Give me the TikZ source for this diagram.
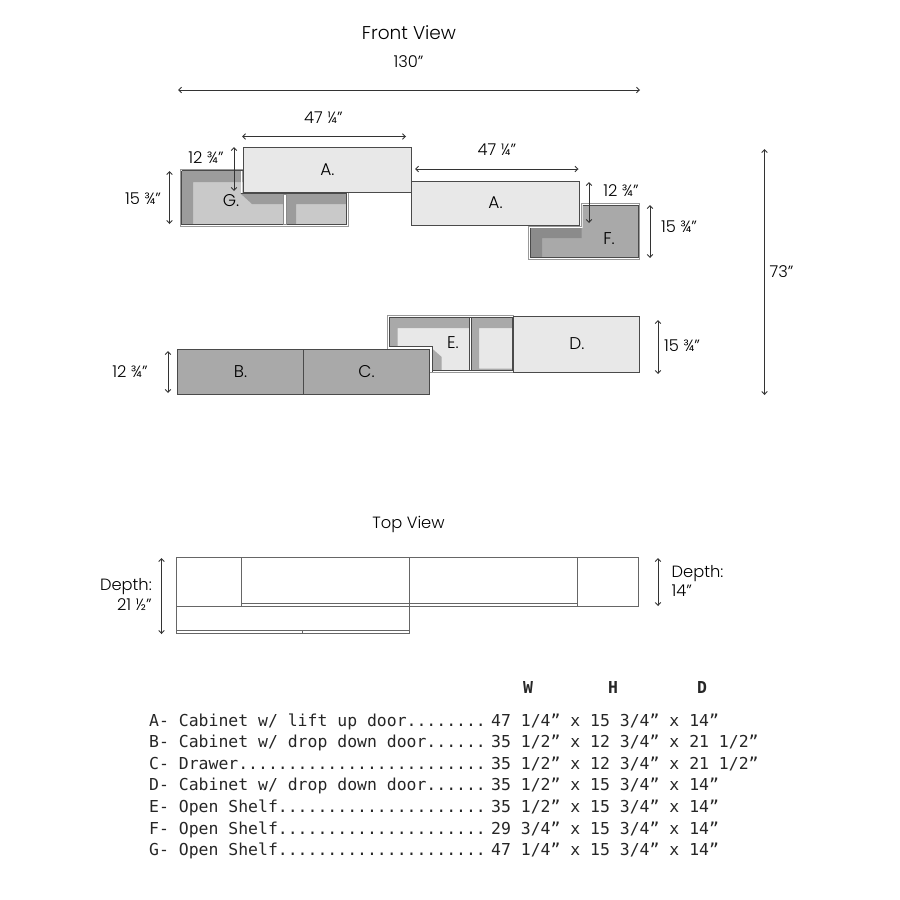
\documentclass[tikz,border=0pt]{standalone}
\usepackage{fontspec}
\setmainfont{Poppins}[UprightFont={* Light},BoldFont={* Medium}]
\newfontfamily\tablefont{DejaVu Sans Mono}
\usetikzlibrary{arrows.meta}
\definecolor{lightpanel}{HTML}{E8E8E8}
\definecolor{midpanel}{HTML}{C9C9C9}
\definecolor{greypanel}{HTML}{A9A9A9}
\definecolor{shadowA}{HTML}{9C9C9C}
\definecolor{shadowB}{HTML}{8B8B8B}
\definecolor{edge}{HTML}{4A4A4A}
\tikzset{
  x=1pt,y=-1pt,
  dim/.style={draw=black!80,line width=1pt,{Straight Barb[length=2.8pt,width=5.5pt]}-{Straight Barb[length=2.8pt,width=5.5pt]}},
  boxfront/.style={draw=edge,line width=0.9pt},
  frameout/.style={draw=black!40,fill=white,line width=0.9pt},
  plan/.style={draw=black!60,line width=0.9pt},
  lab/.style={inner sep=0pt,font=\fontsize{17}{20}\selectfont,text=black},
  dimlab/.style={inner sep=0pt,font=\fontsize{16.3}{19.5}\selectfont,text=black},
  row/.style={inner sep=0pt,anchor=base west,font=\tablefont\fontsize{16.45}{18}\selectfont,text=black!85},
  head/.style={inner sep=0pt,font=\tablefont\bfseries\fontsize{16.45}{18}\selectfont,text=black!85}
}
\begin{document}
\begin{tikzpicture}
\useasboundingbox (0,0) rectangle (900,900);
% ---- G shelf
\path[frameout] (180.5,169.5) rectangle (348,226.5);
\path[fill=midpanel] (181.5,170.5) rectangle (346.8,224);
\path[fill=shadowA] (181.5,170.5) -- (243,170.5) -- (243,182) -- (193,182) -- (193,224) -- (181.5,224) -- cycle;
\path[fill=shadowA] (240,193) -- (284,193) -- (284,204) -- (252,204) -- cycle;
\path[fill=shadowA] (286,193) -- (346.8,193) -- (346.8,204) -- (296,204) -- (296,224) -- (286,224) -- cycle;
\path[draw=edge,line width=0.8pt] (181.5,170.5) -- (181.5,224) -- (346.8,224) -- (346.8,194);
\path[draw=edge,line width=0.8pt] (181.5,170.5) -- (243,170.5);
\path[draw=white,line width=1.2pt] (241.8,171) -- (241.8,193.4);
\path[fill=white,draw=black!45,line width=0.6pt] (283.5,194) rectangle (286.5,224);
\path[draw=edge,line width=0.7pt] (241,193.4) -- (347,193.4);
% ---- A boxes
\path[boxfront,fill=lightpanel] (243.3,147.5) rectangle (411.7,192.5);
\path[boxfront,fill=lightpanel] (411.3,181) rectangle (579.5,225.7);
% ---- F shelf
\path[frameout] (528.7,259.5) -- (639.4,259.5) -- (639.4,203.5) -- (581,203.5) -- (581,226.5) -- (528.7,226.5) -- cycle;
\path[fill=greypanel] (530.2,228) -- (582.5,228) -- (582.5,205) -- (638.2,205) -- (638.2,257.7) -- (530.2,257.7) -- cycle;
\path[fill=shadowB] (530.2,228) -- (581.5,228) -- (581.5,238) -- (542,238) -- (542,257.7) -- (530.2,257.7) -- cycle;
\path[draw=edge,line width=0.8pt] (530.2,228) -- (530.2,257.7) -- (638.2,257.7) -- (638.2,205) -- (582.5,205);
% ---- E shelf
\path[frameout] (387.5,315.5) rectangle (513.3,372.3);
\path[fill=lightpanel] (389,317.5) rectangle (512,370);
\path[fill=greypanel] (389,317.5) -- (470,317.5) -- (470,328) -- (397.5,328) -- (397.5,348) -- (389,348) -- cycle;
\path[fill=greypanel] (431.5,348) -- (441.7,357) -- (441.7,370) -- (431.5,370) -- cycle;
\path[fill=greypanel] (472,317.5) -- (512,317.5) -- (512,328) -- (479,328) -- (479,368.5) -- (512,368.5) -- (512,370) -- (472,370) -- cycle;
\path[draw=edge,line width=0.8pt] (389,347) -- (389,317.5) -- (512,317.5) -- (512,370) -- (431,370);
\path[fill=white,draw=edge,line width=0.6pt] (469.3,317.5) rectangle (471.6,370);
% ---- B and C, white frame around C corner
\path[draw=white,line width=2.2pt] (388,347.6) -- (431.2,347.6) -- (431.2,372);
\path[draw=edge,line width=0.6pt] (389,346.6) -- (432.2,346.6) -- (432.2,372);
\path[boxfront,fill=greypanel] (177.5,349.7) rectangle (303.3,394.7);
\path[boxfront,fill=greypanel] (303.3,349.7) rectangle (429.7,394.7);
% ---- D
\path[boxfront,fill=lightpanel] (513.3,316.5) rectangle (639.3,372);
% ---- panel letters
\node[lab] (lA1) at (327.5,170) {A.};
\node[lab] (lA2) at (495.5,203) {A.};
\node[lab] (lB) at (240.5,371.5) {B.};
\node[lab] (lC) at (366.5,371.5) {C.};
\node[lab] (lD) at (577,344) {D.};
\node[lab] (lE) at (453,343) {E.};
\node[lab] (lF) at (609,239) {F.};
\node[lab] (lG) at (231,200.5) {G.};
% ---- dimension end points
\coordinate (w1a) at (178,90); \coordinate (w1b) at (640,90);
\coordinate (w2a) at (242,136.5); \coordinate (w2b) at (406,136.5);
\coordinate (w3a) at (415,169); \coordinate (w3b) at (578.5,169);
\coordinate (h1a) at (234,147); \coordinate (h1b) at (234,191);
\coordinate (h2a) at (169.5,171); \coordinate (h2b) at (169.5,224);
\coordinate (h3a) at (589,182); \coordinate (h3b) at (589,223);
\coordinate (h4a) at (650,205); \coordinate (h4b) at (650,258);
\coordinate (h5a) at (764.5,149); \coordinate (h5b) at (764.5,395);
\coordinate (h6a) at (168,351); \coordinate (h6b) at (168,393);
\coordinate (h7a) at (658,320); \coordinate (h7b) at (658,374);
\coordinate (d1a) at (161.5,558); \coordinate (d1b) at (161.5,634);
\coordinate (d2a) at (658,558); \coordinate (d2b) at (658,606);
\foreach \p in {w1,w2,w3,h1,h2,h3,h4,h5,h6,h7,d1,d2}{\draw[dim] (\p a) -- (\p b);}
% ---- dimension labels
\node[inner sep=0pt,font=\fontsize{18.5}{22}\selectfont,text=black] (tfront) at (409,32.5) {Front View};
\node[dimlab] (t130) at (408.5,62) {130”};
\node[dimlab] (t47a) at (323.5,118) {47 ¼”};
\node[dimlab] (t47b) at (497,150) {47 ¼”};
\node[dimlab] (t12a) at (206,157.5) {12 ¾”};
\node[dimlab] (t15a) at (143,198.5) {15 ¾”};
\node[dimlab] (t12b) at (621,191) {12 ¾”};
\node[dimlab] (t15b) at (679,227) {15 ¾”};
\node[dimlab] (t73) at (781.5,271.5) {73”};
\node[dimlab] (t12c) at (130,371.5) {12 ¾”};
\node[dimlab] (t15c) at (682,346) {15 ¾”};
\node[inner sep=0pt,font=\fontsize{16.3}{19.5}\selectfont,text=black] (ttop) at (408.5,524) {Top View};
\node[dimlab,anchor=east,align=right] (tdl) at (152,594) {Depth:\\[0.5pt]21 ½”};
\node[dimlab,anchor=west,align=left] (tdr) at (671.5,581) {Depth:\\[0pt]14”};
% ---- top view
\path[plan] (176,557.5) rectangle (638.7,606.7);
\path[plan] (176,606.7) rectangle (409.7,633.8);
\path[plan] (241.7,557.5) -- (241.7,606.7);
\path[plan] (409.7,557.5) -- (409.7,606.7);
\path[plan] (577.7,557.5) -- (577.7,606.7);
\path[plan] (241.7,603.3) -- (577.7,603.3);
\path[plan] (176,630.3) -- (409.7,630.3);
\path[plan] (302,630.3) -- (302,633.8);
% ---- table
\node[head] (hW) at (528,687.5) {W};
\node[head] (hH) at (613,687.5) {H};
\node[head] (hD) at (702,687.5) {D};
\foreach \n/\y/\l/\r in {
 ra/726/{A- Cabinet w/ lift up door........}/{47 1/4” x 15 3/4” x 14”},
 rb/747.3/{B- Cabinet w/ drop down door......}/{35 1/2” x 12 3/4” x 21 1/2”},
 rc/769/{C- Drawer.........................}/{35 1/2” x 12 3/4” x 21 1/2”},
 rd/790.3/{D- Cabinet w/ drop down door......}/{35 1/2” x 15 3/4” x 14”},
 re/812/{E- Open Shelf.....................}/{35 1/2” x 15 3/4” x 14”},
 rf/834/{F- Open Shelf.....................}/{29 3/4” x 15 3/4” x 14”},
 rg/855.3/{G- Open Shelf.....................}/{47 1/4” x 15 3/4” x 14”}}{
  \node[row] (\n l) at (149,\y) {\l};
  \node[row] (\n r) at (491,\y) {\r};
}
\end{tikzpicture}
\end{document}
